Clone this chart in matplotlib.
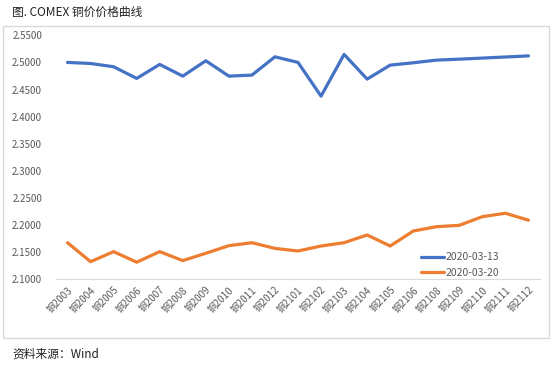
import matplotlib
matplotlib.use("Agg")
import matplotlib.pyplot as plt
from matplotlib.patches import Rectangle

plt.rcParams['font.family'] = ['Noto Sans CJK SC', 'DejaVu Sans']

categories = ["铜2003", "铜2004", "铜2005", "铜2006", "铜2007", "铜2008", "铜2009",
              "铜2010", "铜2011", "铜2012", "铜2101", "铜2102", "铜2103", "铜2104",
              "铜2105", "铜2106", "铜2108", "铜2109", "铜2110", "铜2111", "铜2112"]
series_0313 = [2.500, 2.498, 2.492, 2.4705, 2.4963, 2.4747, 2.503, 2.4747, 2.4766, 2.5103,
               2.500, 2.4378, 2.5148, 2.4692, 2.495, 2.4993, 2.5042, 2.5060, 2.5080,
               2.5100, 2.512]
series_0320 = [2.1675, 2.1325, 2.151, 2.1315, 2.151, 2.1345, 2.148, 2.162, 2.1675, 2.157,
               2.1522, 2.1614, 2.1675, 2.1817, 2.1614, 2.189, 2.197, 2.1996, 2.2155,
               2.2218, 2.209]
yticks = [2.10, 2.15, 2.20, 2.25, 2.30, 2.35, 2.40, 2.45, 2.50, 2.55]
title = "图. COMEX 铜价价格曲线"
source = "资料来源：Wind"
legend_labels = ["2020-03-13", "2020-03-20"]

W, H = 557, 368
fig = plt.figure(figsize=(W / 100, H / 100), dpi=100)

# chart frame
fig.patches.append(Rectangle((3 / W, 1 - 338 / H), (549 - 3) / W, (338 - 26) / H,
                             transform=fig.transFigure, fill=False,
                             edgecolor='#d9d9d9', linewidth=1.0))

ax = fig.add_axes([56 / W, 1 - 279.3 / H, (540 - 56) / W, (279.3 - 35.3) / H])
x = list(range(len(categories)))
l1, = ax.plot(x, series_0313, color='#4472C4', linewidth=2.3, solid_capstyle='round')
l2, = ax.plot(x, series_0320, color='#ED7D31', linewidth=2.3, solid_capstyle='round')

ax.set_xlim(-0.5, len(categories) - 0.5)
ax.set_ylim(2.10, 2.55)
ax.set_yticks(yticks)
ax.set_yticklabels([f"{v:.4f}" for v in yticks], fontsize=7, color='#595959')
ax.set_xticks(x)
ax.set_xticklabels(categories, rotation=45, ha='right', rotation_mode='anchor',
                   fontsize=7, color='#595959')
for s in ['top', 'right', 'left']:
    ax.spines[s].set_visible(False)
ax.spines['bottom'].set_color('#d9d9d9')
ax.tick_params(axis='both', length=0)
ax.tick_params(axis='y', pad=10)
ax.tick_params(axis='x', pad=4)

fig.legend([l1, l2], legend_labels, loc='upper left',
           bbox_to_anchor=(412 / W, 1 - 243 / H), frameon=False, fontsize=7.5,
           handlelength=2.2, handletextpad=0.1, labelspacing=0.5,
           labelcolor='#595959')

fig.text(12 / W, 1 - 12 / H, title, fontsize=8.5, va='center', ha='left', color='#222222')
fig.text(12 / W, 1 - 354 / H, source, fontsize=8.5, va='center', ha='left', color='#222222')

fig.savefig('out.png', dpi=100)
